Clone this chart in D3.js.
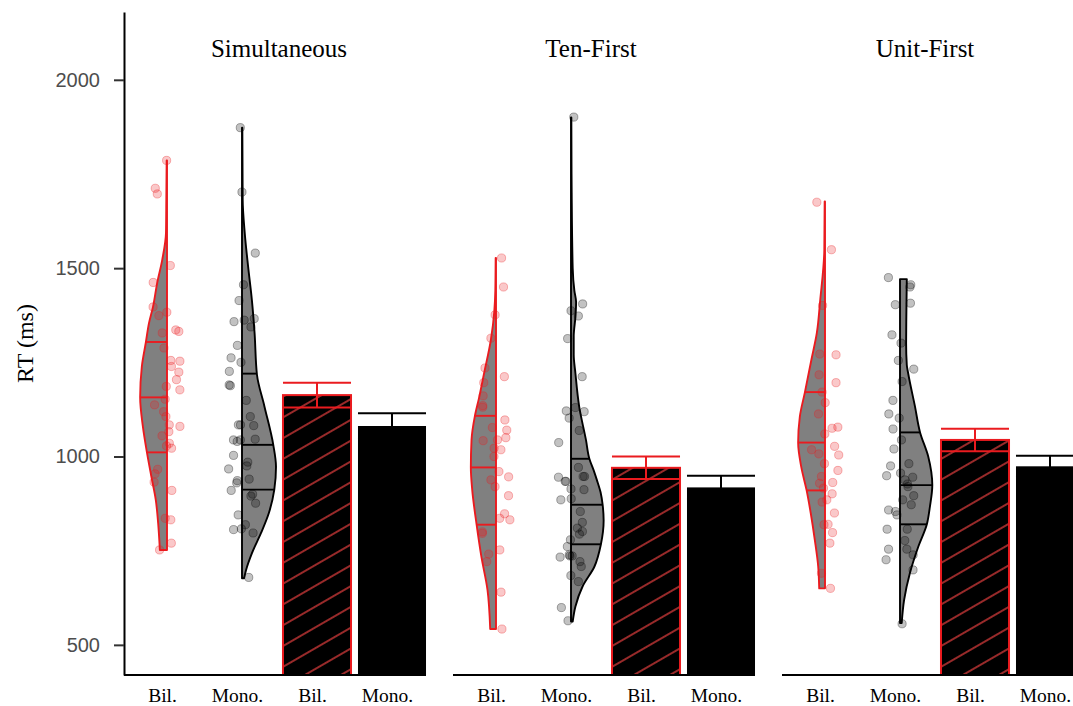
<!DOCTYPE html>
<html>
<head>
<meta charset="utf-8">
<script src="https://cdn.jsdelivr.net/npm/d3@7"></script>
<style>
  body { margin: 0; background: #fff; }
  svg { display: block; }
</style>
</head>
<body>
<svg width="1073" height="706"></svg>
<script>
(function() {
    // ---- data ----
    var conditions = ["Simultaneous", "Ten-First", "Unit-First"];
    var xKeys = ["violinBil", "violinMono", "barBil", "barMono"];
    var xLabels = ["Bil.", "Mono.", "Bil.", "Mono."];
    var yTicks = [500, 1000, 1500, 2000];

    // bar means and standard errors (ms), one per condition
    var meanBil = [1163, 970, 1044];
    var seBil = [33, 30, 30];
    var meanMono = [1081, 918, 974];
    var seMono = [34, 31, 28];

    // raw RTs per participant
    var rtSimBil = [1786, 1712, 1697, 1507, 1462, 1397, 1374, 1383, 1336, 1332, 1328, 1288, 1255, 1253, 1239, 1224, 1204, 1186, 1177, 1152, 1137, 1119, 1106, 1084, 1080, 1066, 1055, 1035, 1028, 1022, 966, 954, 932, 910, 836, 832, 770, 752];
    var rtSimMono = [1873, 1702, 1540, 1456, 1414, 1366, 1362, 1358, 1344, 1295, 1262, 1250, 1226, 1190, 1188, 1149, 1106, 1084, 1084, 1082, 1046, 1044, 1044, 1040, 1003, 985, 975, 967, 940, 936, 930, 910, 900, 895, 876, 845, 819, 808, 806, 797, 679];
    var rtTenBil = [1527, 1450, 1376, 1314, 1235, 1212, 1196, 1161, 1135, 1131, 1097, 1077, 1070, 1050, 1044, 1042, 1022, 1018, 1000, 960, 946, 938, 920, 896, 848, 836, 832, 800, 796, 752, 741, 721, 640, 542];
    var rtTenMono = [1901, 1405, 1387, 1373, 1313, 1212, 1130, 1121, 1119, 1102, 1069, 1037, 971, 947, 947, 945, 934, 934, 914, 912, 888, 885, 854, 825, 810, 801, 794, 779, 761, 739, 736, 736, 733, 721, 708, 684, 668, 599, 564];
    var rtUnitBil = [1675, 1549, 1401, 1272, 1270, 1217, 1196, 1171, 1143, 1113, 1078, 1075, 1060, 1027, 1018, 1007, 1004, 981, 963, 947, 931, 929, 916, 901, 885, 879, 850, 820, 819, 798, 770, 690, 650];
    var rtUnitMono = [1475, 1456, 1450, 1407, 1403, 1323, 1301, 1255, 1232, 1199, 1149, 1113, 1102, 1073, 1044, 1020, 981, 975, 956, 949, 945, 938, 927, 920, 896, 885, 872, 858, 854, 845, 807, 807, 777, 754, 754, 739, 726, 699, 556];

    // violin density profiles [RT, relative density]
    var densSimBil = [[1786, 0.01], [1681, 0.02], [1593, 0.03], [1522, 0.14], [1460, 0.29], [1398, 0.41], [1354, 0.53], [1304, 0.62], [1239, 0.74], [1157, 0.79], [1080, 0.71], [1011, 0.59], [947, 0.46], [885, 0.33], [823, 0.26], [752, 0.21]];
    var densSimMono = [[1873, 0.01], [1681, 0.02], [1594, 0.08], [1504, 0.18], [1416, 0.29], [1328, 0.37], [1217, 0.44], [1133, 0.66], [1031, 0.92], [973, 1.0], [912, 0.95], [850, 0.79], [797, 0.56], [743, 0.29], [699, 0.12], [677, 0.06]];
    var densTenBil = [[1527, 0.01], [1440, 0.02], [1385, 0.05], [1310, 0.15], [1221, 0.35], [1155, 0.5], [1108, 0.62], [1044, 0.72], [971, 0.74], [912, 0.7], [819, 0.57], [734, 0.43], [646, 0.25], [542, 0.17]];
    var densTenMono = [[1900, 0.01], [1700, 0.02], [1500, 0.05], [1440, 0.1], [1410, 0.15], [1370, 0.13], [1320, 0.08], [1270, 0.08], [1221, 0.13], [1133, 0.24], [1044, 0.44], [994, 0.54], [960, 0.68], [938, 0.76], [905, 0.87], [872, 0.93], [830, 0.96], [767, 0.88], [708, 0.69], [655, 0.34], [602, 0.13], [562, 0.05]];
    var densUnitBil = [[1677, 0.01], [1549, 0.02], [1416, 0.14], [1328, 0.24], [1257, 0.4], [1171, 0.59], [1106, 0.74], [1037, 0.79], [973, 0.7], [910, 0.54], [850, 0.42], [779, 0.3], [708, 0.2], [650, 0.17]];
    var densUnitMono = [[1471, 0.2], [1400, 0.19], [1300, 0.18], [1243, 0.2], [1221, 0.24], [1133, 0.44], [1064, 0.59], [1000, 0.83], [924, 0.95], [867, 0.88], [820, 0.79], [761, 0.54], [690, 0.29], [619, 0.12], [558, 0.05]];

    // quartiles drawn across each violin
    var qSimBil = [1011, 1157, 1304];
    var qSimMono = [912, 1031, 1220];
    var qTenBil = [819, 971, 1108];
    var qTenMono = [767, 872, 994];
    var qUnitBil = [910, 1037, 1171];
    var qUnitMono = [820, 924, 1064];

    var titleNudge = [4, -13, -8];

    // ---- setup ----
    var red = "#ea1b1f";
    var svg = d3.select("svg");

    var y = d3.scaleLinear().domain([420, 2180]).range([675, 12]);
    var panel = d3.scaleBand().domain(conditions).range([124, 1084]).paddingInner(27 / 329);
    var x = d3.scalePoint().domain(xKeys).range([43, 268]);
    var barW = x.step() * 0.907;
    var w = d3.scaleLinear().domain([0, 1]).range([0, 34]);
    var jitter = d3.randomUniform.source(d3.randomLcg(0.37))(-14, 14);

    var violins = [
        {cond: 0, key: "violinBil", side: -1, col: red, pts: rtSimBil, dens: densSimBil, q: qSimBil},
        {cond: 0, key: "violinMono", side: 1, col: "#000", pts: rtSimMono, dens: densSimMono, q: qSimMono},
        {cond: 1, key: "violinBil", side: -1, col: red, pts: rtTenBil, dens: densTenBil, q: qTenBil},
        {cond: 1, key: "violinMono", side: 1, col: "#000", pts: rtTenMono, dens: densTenMono, q: qTenMono},
        {cond: 2, key: "violinBil", side: -1, col: red, pts: rtUnitBil, dens: densUnitBil, q: qUnitBil},
        {cond: 2, key: "violinMono", side: 1, col: "#000", pts: rtUnitMono, dens: densUnitMono, q: qUnitMono}
    ];

    var bars = [];
    conditions.forEach(function(c, i) {
        bars.push({cond: i, key: "barBil", mean: meanBil[i], se: seBil[i], col: red, hatch: true});
        bars.push({cond: i, key: "barMono", mean: meanMono[i], se: seMono[i], col: "#000", hatch: false});
    });

    function densAt(dens, v) {
        var s = dens.slice().sort(function(a, b) { return a[0] - b[0]; });
        for (var i = 1; i < s.length; i++) {
            if (v <= s[i][0]) {
                var t = (v - s[i - 1][0]) / (s[i][0] - s[i - 1][0]);
                return s[i - 1][1] + t * (s[i][1] - s[i - 1][1]);
            }
        }
        return s[s.length - 1][1];
    }

    // hatch pattern for the bilingual bars
    var pat = svg.append("defs").append("pattern")
        .attr("id", "hatch")
        .attr("patternUnits", "userSpaceOnUse")
        .attr("width", 18).attr("height", 18)
        .attr("patternTransform", "rotate(-30)");
    pat.append("rect").attr("width", 18).attr("height", 18).attr("fill", "#000");
    pat.append("line")
        .attr("x1", 0).attr("x2", 18).attr("y1", 9).attr("y2", 9)
        .attr("stroke", "#982a2a").attr("stroke-width", 2);

    // ---- panels ----
    var panels = svg.selectAll(".panel")
        .data(conditions)
        .enter().append("g")
          .attr("class", "panel")
          .attr("transform", function(d) { return "translate(" + panel(d) + ",0)"; });

    panels.each(function(cond, ci) {
        var g = d3.select(this);

        violins.filter(function(v) { return v.cond === ci; }).forEach(function(v) {
            var cx = x(v.key);
            var sorted = v.dens.slice().sort(function(a, b) { return b[0] - a[0]; });
            var area = d3.area()
                .curve(d3.curveMonotoneY)
                .y(function(d) { return y(d[0]); })
                .x0(function() { return cx; })
                .x1(function(d) { return cx + v.side * w(d[1]); });

            g.append("path")
                .attr("d", area(sorted))
                .attr("fill", "#808080")
                .attr("stroke", v.col)
                .attr("stroke-width", 1.9)
                .attr("stroke-linejoin", "round");

            g.selectAll(null)
                .data(v.pts)
                .enter().append("circle")
                  .attr("cx", function() { return cx + jitter(); })
                  .attr("cy", function(d) { return y(d); })
                  .attr("r", 4.1)
                  .attr("fill", v.col)
                  .attr("fill-opacity", 0.24)
                  .attr("stroke", v.col)
                  .attr("stroke-opacity", 0.32)
                  .attr("stroke-width", 1);

            g.selectAll(null)
                .data(v.q)
                .enter().append("line")
                  .attr("x1", cx)
                  .attr("x2", function(d) { return cx + v.side * w(densAt(v.dens, d)); })
                  .attr("y1", function(d) { return y(d); })
                  .attr("y2", function(d) { return y(d); })
                  .attr("stroke", v.col)
                  .attr("stroke-width", 1.9);
        });

        bars.filter(function(b) { return b.cond === ci; }).forEach(function(b) {
            var cx = x(b.key);
            g.append("rect")
                .attr("x", cx - barW / 2)
                .attr("y", y(b.mean))
                .attr("width", barW)
                .attr("height", y.range()[0] - y(b.mean))
                .attr("fill", b.hatch ? "url(#hatch)" : "#000")
                .attr("stroke", b.hatch ? b.col : "none")
                .attr("stroke-width", 2);

            var eb = g.append("g")
                .attr("stroke", b.col)
                .attr("stroke-width", 2);
            eb.append("line")
                .attr("x1", cx).attr("x2", cx)
                .attr("y1", y(b.mean - b.se)).attr("y2", y(b.mean + b.se));
            [b.mean - b.se, b.mean + b.se].forEach(function(v) {
                eb.append("line")
                    .attr("x1", cx - barW / 2).attr("x2", cx + barW / 2)
                    .attr("y1", y(v)).attr("y2", y(v));
            });
        });

        // x axis
        g.append("line")
            .attr("x1", 0).attr("x2", panel.bandwidth())
            .attr("y1", y.range()[0]).attr("y2", y.range()[0])
            .attr("stroke", "#000").attr("stroke-width", 2);

        var ax = g.append("g")
            .attr("transform", "translate(0," + y.range()[0] + ")")
            .call(d3.axisBottom(x).tickSize(0).tickPadding(13)
                .tickFormat(function(d, i) { return xLabels[i]; }));
        ax.select(".domain").remove();
        ax.selectAll("text")
            .attr("dx", -5)
            .attr("font-family", "'Liberation Serif', 'Times New Roman', serif")
            .attr("font-size", 19.5)
            .attr("fill", "#000");

        g.append("text")
            .attr("x", panel.bandwidth() / 2 + titleNudge[ci])
            .attr("y", 57)
            .attr("text-anchor", "middle")
            .attr("font-family", "'Liberation Serif', 'Times New Roman', serif")
            .attr("font-size", 25)
            .text(cond);
    });

    // ---- y axis ----
    var yAxis = svg.append("g")
        .attr("transform", "translate(124,0)")
        .call(d3.axisLeft(y).tickValues(yTicks).tickSize(10).tickSizeOuter(0).tickPadding(14)
            .tickFormat(d3.format("d")));
    yAxis.select(".domain").attr("stroke", "#000").attr("stroke-width", 2);
    yAxis.selectAll(".tick line").attr("stroke", "#333").attr("stroke-width", 2);
    yAxis.selectAll(".tick text")
        .attr("font-family", "'Liberation Sans', Arial, sans-serif")
        .attr("font-size", 20)
        .attr("fill", "#4d4d4d");

    svg.append("text")
        .attr("transform", "translate(33," + (y.range()[0] + y.range()[1]) / 2 + ") rotate(-90)")
        .attr("text-anchor", "middle")
        .attr("font-family", "'Liberation Serif', 'Times New Roman', serif")
        .attr("font-size", 24)
        .text("RT (ms)");
})();
</script>
</body>
</html>
